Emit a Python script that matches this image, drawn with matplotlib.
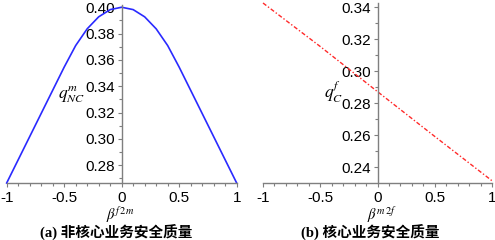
import matplotlib
matplotlib.use("Agg")
import matplotlib.pyplot as plt
from matplotlib.ticker import MultipleLocator

plt.rcParams['mathtext.fontset'] = 'stix'
plt.rcParams['font.family'] = ['Liberation Sans', 'DejaVu Sans']

# (a) non-core business security quality vs beta^{f2m}
beta_f2m = [-1.0, -0.9, -0.8, -0.7, -0.6, -0.5, -0.4, -0.3, -0.2, -0.1, 0.0,
            0.1, 0.2, 0.3, 0.4, 0.5, 0.6, 0.7, 0.8, 0.9, 1.0]
q_nc_m = [0.2665, 0.2841, 0.3017, 0.3193, 0.3369, 0.3545, 0.3709, 0.3836, 0.3927, 0.3982, 0.4000,
          0.3982, 0.3927, 0.3836, 0.3709, 0.3545, 0.3369, 0.3193, 0.3017, 0.2841, 0.2665]

# (b) core business security quality vs beta^{m2f}
beta_m2f = [-1.0, -0.5, 0.0, 0.5, 1.0]
q_c_f = [0.3427, 0.3155, 0.2873, 0.2593, 0.2316]

W, H = 495, 240
fig = plt.figure(figsize=(W / 100, H / 100), dpi=100)

AXIS_COLOR = '#7f7f7f'


def style_axes(ax, ymajor, ylim):
    ax.set_xlim(-1, 1)
    ax.set_ylim(*ylim)
    for side in ('top', 'right'):
        ax.spines[side].set_visible(False)
    ax.spines['left'].set_position(('data', 0))
    for side in ('left', 'bottom'):
        ax.spines[side].set_color(AXIS_COLOR)
        ax.spines[side].set_linewidth(1.0)
    ax.xaxis.set_major_locator(MultipleLocator(0.5))
    ax.xaxis.set_minor_locator(MultipleLocator(0.1))
    ax.yaxis.set_major_locator(MultipleLocator(ymajor))
    ax.yaxis.set_minor_locator(MultipleLocator(ymajor / 2))
    ax.tick_params(which='major', direction='out', length=3, width=0.8,
                   color=AXIS_COLOR, labelsize=11, pad=2)
    ax.tick_params(axis='x', which='major', pad=3)
    ax.tick_params(which='minor', direction='out', length=2, width=0.8,
                   color=AXIS_COLOR)
    ax.set_xticks([-1, -0.5, 0, 0.5, 1])
    ax.set_xticklabels(['-1', '-0.5', '0', '0.5', '1'])
    ax.patch.set_visible(False)


# left panel
ax1 = fig.add_axes([6.67 / W, (H - 183) / H, 230 / W, 178 / H])
ax1.plot(beta_f2m, q_nc_m, color='#2a2aff', lw=1.2, clip_on=False)
style_axes(ax1, 0.02, (0.2665, 0.4017))
ax1.set_yticks([0.28, 0.30, 0.32, 0.34, 0.36, 0.38, 0.40])
ax1.set_yticklabels(['0.28', '0.30', '0.32', '0.34', '0.36', '0.38', '0.40'])

# right panel
ax2 = fig.add_axes([263 / W, (H - 183) / H, 229 / W, 180 / H])
ax2.plot(beta_m2f, q_c_f, color='#ff2a2a', lw=1.0, clip_on=False,
         dashes=(3, 1.5, 1, 1.5))
style_axes(ax2, 0.02, (0.2302, 0.3427))
ax2.set_yticks([0.24, 0.26, 0.28, 0.30, 0.32, 0.34])
ax2.set_yticklabels(['0.24', '0.26', '0.28', '0.30', '0.32', '0.34'])

# axis labels (Maple style: near the axes crossing)
fig.text(120 / W, 1 - 215 / H, r'$\beta^{f\,2m}$', fontsize=10.5,
         ha='center', va='center')
fig.text(72 / W, 1 - 95 / H, r'$q_{NC}^{m}$', fontsize=12.5,
         ha='center', va='center')
fig.text(382 / W, 1 - 215 / H, r'$\beta^{m\,2f}$', fontsize=10.5,
         ha='center', va='center')
fig.text(334 / W, 1 - 92 / H, r'$q_{C}^{f}$', fontsize=12.5,
         ha='center', va='center')

# captions
cap_font = dict(family=['Liberation Serif', 'Noto Sans CJK SC'],
                fontsize=10.5, fontweight='bold', ha='center', va='center')
fig.text(116 / W, 1 - 232.5 / H, '(a) 非核心业务安全质量', **cap_font)
fig.text(370 / W, 1 - 232.5 / H, '(b) 核心业务安全质量', **cap_font)

fig.savefig('out.png', dpi=100, facecolor='white')
